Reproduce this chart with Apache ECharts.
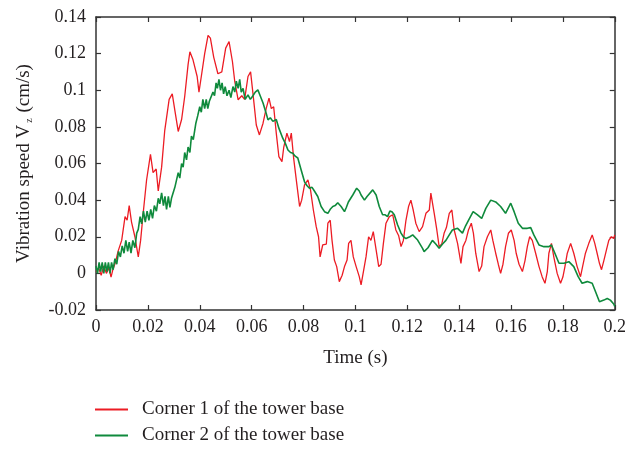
<!DOCTYPE html>
<html>
<head>
<meta charset="utf-8">
<script src="https://cdn.jsdelivr.net/npm/echarts@6/dist/echarts.min.js"></script>
<style>html,body{margin:0;padding:0;background:#fff}#c{width:629px;height:449px}</style>
</head>
<body>
<div id="c"></div>
<script>
// Data: [time (s), vibration speed (cm/s)]
var seriesNames = ['Corner 1 of the tower base', 'Corner 2 of the tower base'];
var xTicks = [0, 0.02, 0.04, 0.06, 0.08, 0.1, 0.12, 0.14, 0.16, 0.18, 0.2];
var yTicks = [-0.02, 0, 0.02, 0.04, 0.06, 0.08, 0.1, 0.12, 0.14];

var corner1 = [
[0,0.001],[0.001,0.003],[0.002,-0.001],[0.003,0.004],[0.004,0.000],[0.005,0.003],[0.0058,-0.002],[0.0065,0.002],
[0.0075,0.006],[0.0085,0.012],[0.0099,0.018],[0.0112,0.031],[0.012,0.029],[0.0128,0.037],[0.0137,0.028],[0.015,0.020],
[0.0163,0.009],[0.0172,0.018],[0.0182,0.033],[0.0195,0.051],[0.021,0.065],[0.022,0.055],[0.0232,0.057],[0.024,0.045],
[0.0253,0.058],[0.0265,0.078],[0.0282,0.095],[0.0294,0.098],[0.0304,0.089],[0.0317,0.0775],[0.033,0.084],[0.0342,0.0966],
[0.0355,0.114],[0.0362,0.121],[0.0374,0.1166],[0.039,0.1075],[0.0397,0.099],[0.0406,0.1075],[0.0419,0.12],[0.0432,0.130],
[0.0441,0.1285],[0.0454,0.118],[0.047,0.109],[0.0485,0.11],[0.05,0.123],[0.0513,0.1266],[0.0526,0.1157],[0.0535,0.1048],
[0.0548,0.0948],[0.0562,0.097],[0.0573,0.095],[0.0586,0.1075],[0.0596,0.110],[0.0605,0.0984],[0.0618,0.081],[0.063,0.0756],
[0.0644,0.082],[0.0656,0.090],[0.0667,0.0957],[0.0676,0.090],[0.0685,0.091],[0.0695,0.0766],[0.0705,0.0638],[0.0717,0.061],
[0.0724,0.069],[0.0736,0.0766],[0.0746,0.072],[0.0753,0.0766],[0.0762,0.0629],[0.0774,0.049],[0.0785,0.0365],[0.0793,0.040],
[0.0804,0.0483],[0.0817,0.051],[0.0827,0.0456],[0.0838,0.0346],[0.0849,0.0255],[0.0858,0.020],[0.0864,0.009],[0.0874,0.0155],
[0.0888,0.016],[0.0894,0.0274],[0.0903,0.029],[0.091,0.018],[0.0919,0.0073],[0.0928,0.0037],[0.0938,-0.0045],[0.0949,-0.001],
[0.0958,0.0037],[0.0968,0.0073],[0.0974,0.0164],[0.0983,0.018],[0.0992,0.009],[0.1003,0.0037],[0.1015,-0.0018],[0.1022,-0.0063],
[0.1031,0.001],[0.1041,0.009],[0.1051,0.020],[0.106,0.018],[0.1069,0.0228],[0.108,0.0128],[0.109,0.0037],[0.1099,0.005],
[0.1108,0.0164],[0.1118,0.0274],[0.1131,0.031],[0.1144,0.032],[0.1156,0.0237],[0.1167,0.0205],[0.1176,0.0146],[0.1185,0.018],
[0.1195,0.029],[0.1205,0.0365],[0.1214,0.040],[0.1223,0.0346],[0.1233,0.0274],[0.1246,0.0228],[0.1259,0.0255],[0.1272,0.0328],
[0.1285,0.0346],[0.1291,0.0438],[0.1304,0.0328],[0.1314,0.0237],[0.1323,0.0146],[0.1333,0.016],[0.1342,0.0219],[0.1351,0.025],
[0.1362,0.0328],[0.1372,0.0346],[0.1381,0.0237],[0.1394,0.0164],[0.1407,0.0055],[0.1415,0.0146],[0.1426,0.018],[0.1436,0.0237],
[0.1447,0.0274],[0.1455,0.022],[0.1464,0.011],[0.1477,0.001],[0.1487,0.004],[0.1496,0.0146],[0.1509,0.020],[0.1522,0.0237],
[0.153,0.018],[0.1541,0.011],[0.1551,0.005],[0.156,0.0],[0.1569,0.005],[0.1579,0.0146],[0.159,0.0219],[0.1601,0.0237],
[0.1612,0.018],[0.162,0.011],[0.1631,0.005],[0.1644,0.001],[0.1654,0.007],[0.1663,0.0146],[0.1672,0.020],[0.1682,0.018],
[0.1695,0.011],[0.1708,0.0037],[0.172,-0.0018],[0.1731,-0.0054],[0.174,0.001],[0.1746,0.011],[0.1756,0.0164],[0.1765,0.009],
[0.1778,0.0],[0.1791,-0.0054],[0.18,-0.002],[0.1808,0.0037],[0.1817,0.011],[0.183,0.0164],[0.1842,0.011],[0.1855,0.0037],
[0.1868,-0.0018],[0.1876,0.0037],[0.1887,0.011],[0.19,0.0164],[0.1913,0.021],[0.1923,0.0164],[0.1932,0.011],[0.1941,0.0055],
[0.1949,0.002],[0.1958,0.007],[0.1968,0.0128],[0.1977,0.018],[0.1987,0.020],[0.1996,0.019],[0.2,0.021]
];

var corner2 = [
[0,0.004],[0.0006,0.0],[0.0012,0.006],[0.0018,0.001],[0.0024,0.006],[0.003,0.0],[0.0036,0.006],[0.0042,0.001],
[0.0048,0.006],[0.0054,0.0],[0.006,0.006],[0.0066,0.002],[0.0073,0.008],[0.008,0.005],[0.0087,0.012],[0.0094,0.009],
[0.0101,0.015],[0.0108,0.011],[0.0115,0.018],[0.0122,0.012],[0.0128,0.017],[0.0135,0.011],[0.0142,0.018],[0.015,0.014],
[0.0157,0.022],[0.0163,0.024],[0.017,0.031],[0.0176,0.027],[0.0183,0.034],[0.019,0.028],[0.0197,0.034],[0.0204,0.029],
[0.0211,0.035],[0.0218,0.030],[0.0225,0.037],[0.0233,0.034],[0.024,0.041],[0.0246,0.038],[0.0253,0.044],[0.026,0.037],
[0.0266,0.042],[0.0272,0.035],[0.0279,0.042],[0.0285,0.036],[0.0291,0.041],[0.0298,0.040],[0.0304,0.047],[0.031,0.046],
[0.0317,0.055],[0.0323,0.052],[0.033,0.060],[0.0336,0.058],[0.0342,0.066],[0.0349,0.062],[0.0355,0.069],[0.0362,0.066],
[0.0368,0.075],[0.0375,0.073],[0.0385,0.082],[0.0392,0.086],[0.04,0.091],[0.0406,0.088],[0.0412,0.095],[0.0419,0.090],
[0.0425,0.095],[0.0431,0.090],[0.0437,0.094],[0.0444,0.093],[0.0451,0.099],[0.0457,0.097],[0.0463,0.104],[0.0468,0.101],
[0.0474,0.106],[0.048,0.100],[0.0486,0.104],[0.0492,0.098],[0.0498,0.102],[0.0505,0.097],[0.0513,0.100],[0.052,0.096],
[0.0528,0.102],[0.0535,0.099],[0.0541,0.105],[0.0548,0.101],[0.0554,0.106],[0.056,0.099],[0.0567,0.101],[0.0575,0.095],
[0.0586,0.0975],[0.0595,0.095],[0.0605,0.097],[0.0614,0.099],[0.0624,0.1002],[0.0633,0.097],[0.0644,0.093],[0.0656,0.0875],
[0.0663,0.0838],[0.0672,0.085],[0.0682,0.083],[0.0695,0.084],[0.0705,0.0793],[0.072,0.0738],[0.073,0.071],[0.074,0.0674],
[0.075,0.066],[0.0759,0.0656],[0.0768,0.064],[0.0778,0.063],[0.0791,0.0565],[0.0804,0.050],[0.0813,0.048],[0.0823,0.0465],
[0.0833,0.047],[0.0842,0.045],[0.0855,0.042],[0.0868,0.0365],[0.0881,0.0337],[0.0894,0.0328],[0.0903,0.035],[0.0913,0.0365],
[0.0922,0.037],[0.0932,0.0386],[0.0945,0.0365],[0.0958,0.0337],[0.0965,0.036],[0.0973,0.039],[0.099,0.0428],[0.1005,0.0465],
[0.1015,0.045],[0.1022,0.0428],[0.1035,0.040],[0.1045,0.042],[0.1051,0.0428],[0.1067,0.0456],[0.108,0.0428],[0.1092,0.0365],
[0.1105,0.032],[0.1115,0.032],[0.1124,0.031],[0.1133,0.034],[0.1141,0.0337],[0.115,0.032],[0.1163,0.0264],[0.1176,0.022],
[0.1185,0.020],[0.1195,0.019],[0.121,0.020],[0.1221,0.021],[0.124,0.0182],[0.1259,0.0137],[0.1265,0.0119],[0.128,0.014],
[0.1297,0.018],[0.131,0.016],[0.1323,0.0137],[0.1336,0.016],[0.1349,0.018],[0.1362,0.021],[0.1374,0.0237],[0.1394,0.0246],
[0.1413,0.022],[0.1425,0.026],[0.1436,0.029],[0.1454,0.0337],[0.1471,0.0319],[0.1487,0.030],[0.1503,0.0355],[0.1522,0.040],
[0.1541,0.039],[0.156,0.0365],[0.1579,0.0328],[0.1599,0.0383],[0.1612,0.0337],[0.1628,0.0274],[0.1644,0.0246],[0.1663,0.0246],
[0.1676,0.025],[0.1688,0.021],[0.1708,0.0155],[0.1727,0.0146],[0.1746,0.0146],[0.1756,0.0155],[0.1772,0.010],[0.1785,0.0055],
[0.1804,0.0055],[0.1823,0.0064],[0.1842,0.0037],[0.1859,-0.0018],[0.1874,-0.0054],[0.1894,-0.0045],[0.1913,-0.0054],[0.1926,-0.010],
[0.1941,-0.0155],[0.1958,-0.0146],[0.1971,-0.0137],[0.1983,-0.0146],[0.1996,-0.0167],[0.2,-0.018]
];

var FONT = '"Liberation Serif", "DejaVu Serif", serif';
var TXT = '#231f20';
var AX = '#333333';
var RED = '#ec1c24';
var GREEN = '#0f8a3c';

function fmt(v) { return String(parseFloat(v.toFixed(2))); }

var chart = echarts.init(document.getElementById('c'), null, {renderer: 'canvas'});

function axisCommon(extra) {
  var base = {
    type: 'value',
    axisLine: {show: true, onZero: false, lineStyle: {color: AX, width: 1.5}},
    axisTick: {show: true, inside: true, length: 5, lineStyle: {color: AX, width: 1.2}},
    splitLine: {show: false}
  };
  for (var k in extra) base[k] = extra[k];
  return base;
}

chart.setOption({
  animation: false,
  backgroundColor: '#ffffff',
  grid: {left: 96, right: 13, top: 17, bottom: 139, containLabel: false},
  legend: {
    orient: 'vertical',
    left: 95,
    top: 400,
    padding: 0,
    itemWidth: 33,
    itemHeight: 2,
    itemGap: 7,
    icon: 'rect',
    textStyle: {fontFamily: FONT, fontSize: 19, color: TXT, padding: [0, 0, 0, 9]},
    data: seriesNames
  },
  xAxis: [
    axisCommon({
      position: 'bottom', min: xTicks[0], max: xTicks[xTicks.length - 1], interval: 0.02,
      axisLabel: {show: true, margin: 8, fontFamily: FONT, fontSize: 18, color: TXT, formatter: fmt},
      name: 'Time (s)', nameLocation: 'middle', nameGap: 39,
      nameTextStyle: {fontFamily: FONT, fontSize: 19, color: TXT}
    }),
    axisCommon({
      position: 'top', min: xTicks[0], max: xTicks[xTicks.length - 1], interval: 0.02,
      axisLabel: {show: false}
    })
  ],
  yAxis: [
    axisCommon({
      position: 'left', min: yTicks[0], max: yTicks[yTicks.length - 1], interval: 0.02,
      axisLabel: {show: true, margin: 10, fontFamily: FONT, fontSize: 18, color: TXT, formatter: fmt},
      name: 'Vibration speed V{sub|z} (cm/s)', nameLocation: 'middle', nameGap: 62,
      nameTextStyle: {fontFamily: FONT, fontSize: 19, color: TXT,
        rich: {sub: {fontFamily: FONT, fontSize: 10, color: TXT, verticalAlign: 'bottom', padding: [9, 1, 0, 2]}}}
    }),
    axisCommon({
      position: 'right', min: yTicks[0], max: yTicks[yTicks.length - 1], interval: 0.02,
      axisLabel: {show: false}
    })
  ],
  series: [
    {
      name: seriesNames[0], type: 'line', xAxisIndex: 0, yAxisIndex: 0,
      data: corner1, showSymbol: false, symbol: 'none',
      lineStyle: {color: RED, width: 1.3}, itemStyle: {color: RED}
    },
    {
      name: seriesNames[1], type: 'line', xAxisIndex: 0, yAxisIndex: 0,
      data: corner2, showSymbol: false, symbol: 'none',
      lineStyle: {color: GREEN, width: 1.6}, itemStyle: {color: GREEN}
    }
  ]
});
</script>
</body>
</html>
